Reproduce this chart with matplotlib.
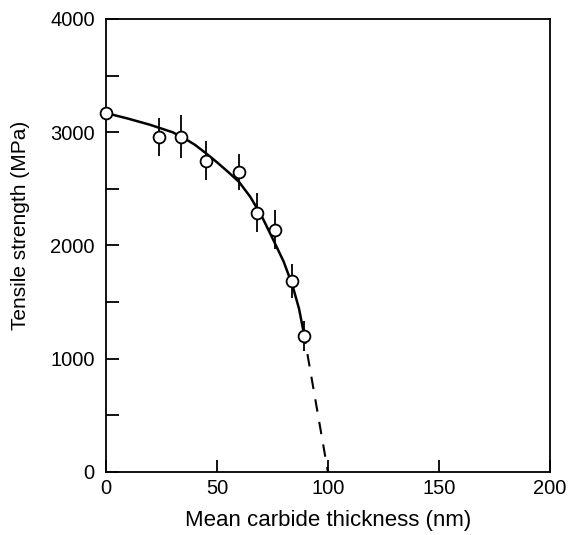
import numpy as np
import matplotlib
matplotlib.use("Agg")
import matplotlib.pyplot as plt

plt.rcParams['font.family'] = ['Liberation Sans', 'DejaVu Sans']

# measured points
thick = [0, 24, 34, 45, 60, 68, 76, 84, 89]
strength = [3170, 2960, 2960, 2750, 2650, 2290, 2140, 1690, 1200]
err = [0, 170, 190, 170, 160, 170, 170, 150, 130]

# hand drawn trend line (solid part)
curve_x = [0, 10, 20, 30, 35, 40, 45, 50, 55, 60, 65, 70, 75, 80, 84, 87, 89]
curve_y = [3170, 3120, 3065, 3000, 2950, 2890, 2815, 2735, 2650, 2560, 2430, 2265, 2065, 1860, 1650, 1440, 1240]

# extrapolated (dashed) part
dash_x = [89, 100]
dash_y = [1240, 0]

fig = plt.figure(figsize=(5.71, 5.35), dpi=100)
ax = fig.add_axes([0.1856, 0.1178, 0.7774, 0.8467])

ax.plot(curve_x, curve_y, color='black', linewidth=1.8, zorder=2,
        solid_joinstyle='round')
ax.plot(dash_x, dash_y, color='black', linewidth=1.5, linestyle=(0, (6, 5)), zorder=2)

# error bars (no caps), hidden behind the open circles
ex = [t for t, e in zip(thick, err) if e > 0]
ey = [s for s, e in zip(strength, err) if e > 0]
ee = [e for e in err if e > 0]
ax.errorbar(ex, ey, yerr=ee, fmt='none', ecolor='black', elinewidth=1.3, capsize=0, zorder=3)

ax.plot(thick, strength, linestyle='none', marker='o', markersize=8.5,
        markerfacecolor='white', markeredgecolor='black', markeredgewidth=1.3,
        zorder=4, clip_on=False)

ax.set_xlim(0, 200)
ax.set_ylim(0, 4000)
ax.set_xticks([0, 50, 100, 150, 200])
ax.set_yticks(np.arange(0, 4001, 500))
ax.set_yticklabels(['0', '', '1000', '', '2000', '', '3000', '', '4000'])

ax.tick_params(direction='in', length=9, width=1.3, labelsize=14.5)
ax.tick_params(axis='y', pad=8)
ax.tick_params(axis='x', pad=5)
for s in ax.spines.values():
    s.set_linewidth(1.3)

ax.set_xlabel('Mean carbide thickness (nm)', fontsize=16, labelpad=9)
ax.set_ylabel('Tensile strength (MPa)', fontsize=15)
ax.yaxis.set_label_coords(-0.172, 0.545)

fig.savefig('out.png', dpi=100)
